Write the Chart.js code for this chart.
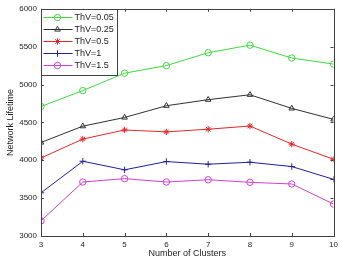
<!DOCTYPE html>
<html>
<head>
<meta charset="utf-8">
<script src="https://cdn.jsdelivr.net/npm/chart.js@4/dist/chart.umd.min.js"></script>
<style>
    html, body { margin: 0; padding: 0; background: #fff; }
    #wrap { width: 342px; height: 256px; position: relative; }
</style>
</head>
<body>
<div id="wrap"><canvas id="chart"></canvas></div>
<script>
let clusters = [3, 4, 5, 6, 7, 8, 9, 10];
let yTicks = [3000, 3500, 4000, 4500, 5000, 5500, 6000];

let thv005 = [4710, 4920, 5150, 5250, 5420, 5520, 5350, 5270];
let thv025 = [4235, 4450, 4565, 4720, 4800, 4865, 4685, 4540];
let thv05 = [4030, 4280, 4400, 4375, 4410, 4452, 4213, 4013];
let thv1 = [3570, 3987, 3874, 3983, 3948, 3974, 3917, 3748];
let thv15 = [3200, 3713, 3757, 3713, 3743, 3709, 3687, 3422];

let seriesLabels = ["ThV=0.05", "ThV=0.25", "ThV=0.5", "ThV=1", "ThV=1.5"];
let seriesData = [thv005, thv025, thv05, thv1, thv15];
let seriesColors = ["#3fd83f", "#303030", "#e02828", "#20209a", "#d040d0"];
let seriesMarkers = ["circle", "triangle", "star", "cross", "circle"];

const FONT = "'Liberation Sans', Arial, sans-serif";

function makeDatasets() {
    return seriesLabels.map((label, i) => ({
        label: label,
        data: clusters.map((c, j) => ({ x: c, y: seriesData[i][j] })),
        borderColor: seriesColors[i],
        backgroundColor: "rgba(0,0,0,0)",
        borderWidth: 1,
        pointStyle: seriesMarkers[i],
        pointRadius: 3.2,
        pointBorderColor: seriesColors[i],
        pointBackgroundColor: "rgba(0,0,0,0)",
        pointBorderWidth: 1,
        tension: 0,
        fill: false
    }));
}

// box, inner tick marks and legend drawn MATLAB-style
let matlabFrame = {
    id: "matlabFrame",
    afterDatasetsDraw(chart) {
        let ctx = chart.ctx;
        let a = chart.chartArea;
        let xs = chart.scales.x;
        let ys = chart.scales.y;

        ctx.save();
        ctx.strokeStyle = "#404040";
        ctx.lineWidth = 1;
        ctx.strokeRect(Math.round(a.left) + 0.5, Math.round(a.top) + 0.5,
            Math.round(a.right - a.left), Math.round(a.bottom - a.top));

        ctx.beginPath();
        clusters.forEach(c => {
            let px = Math.round(xs.getPixelForValue(c)) + 0.5;
            ctx.moveTo(px, a.bottom); ctx.lineTo(px, a.bottom - 3);
            ctx.moveTo(px, a.top); ctx.lineTo(px, a.top + 3);
        });
        yTicks.forEach(v => {
            let py = Math.round(ys.getPixelForValue(v)) + 0.5;
            ctx.moveTo(a.left, py); ctx.lineTo(a.left + 3, py);
            ctx.moveTo(a.right, py); ctx.lineTo(a.right - 3, py);
        });
        ctx.stroke();

        // legend
        let lx = Math.round(a.left) + 0.5;
        let ly = Math.round(a.top) + 0.5;
        let lw = 76;
        let lh = 66;
        ctx.fillStyle = "#fff";
        ctx.fillRect(lx, ly, lw, lh);
        ctx.strokeStyle = "#404040";
        ctx.strokeRect(lx, ly, lw, lh);

        ctx.font = "9px " + FONT;
        ctx.textBaseline = "middle";
        ctx.textAlign = "left";
        seriesLabels.forEach((label, i) => {
            let y = ly + 8 + i * 12;
            ctx.strokeStyle = seriesColors[i];
            ctx.beginPath();
            ctx.moveTo(lx + 2, y);
            ctx.lineTo(lx + 31, y);
            ctx.stroke();
            ctx.fillStyle = "rgba(0,0,0,0)";
            Chart.helpers.drawPoint(ctx, {
                pointStyle: seriesMarkers[i],
                radius: 3.2,
                borderWidth: 1,
                rotation: 0
            }, lx + 16, y);
            ctx.fillStyle = "#222";
            ctx.fillText(label, lx + 33, y + 0.5);
        });
        ctx.restore();
    }
};

let chart = new Chart(document.getElementById("chart"), {
    type: "line",
    data: { datasets: makeDatasets() },
    options: {
        responsive: true,
        maintainAspectRatio: false,
        animation: false,
        layout: { padding: { left: 0, right: 8, top: 6, bottom: -6 } },
        plugins: {
            legend: { display: false },
            tooltip: { enabled: false }
        },
        scales: {
            x: {
                type: "linear",
                min: 3,
                max: 10,
                afterBuildTicks: s => { s.ticks = clusters.map(v => ({ value: v })); },
                afterFit: s => { s.height = 26; },
                grid: { display: false, drawTicks: false },
                border: { display: false },
                ticks: {
                    padding: 4,
                    color: "#222",
                    font: { family: FONT, size: 8 },
                    callback: v => String(v)
                },
                title: {
                    display: true,
                    text: "Number of Clusters",
                    color: "#222",
                    padding: { top: 0, bottom: 3 },
                    font: { family: FONT, size: 9 }
                }
            },
            y: {
                min: 3000,
                max: 6000,
                afterBuildTicks: s => { s.ticks = yTicks.map(v => ({ value: v })); },
                afterFit: s => { s.width = 41; },
                grid: { display: false, drawTicks: false },
                border: { display: false },
                ticks: {
                    padding: 4,
                    color: "#222",
                    font: { family: FONT, size: 8 },
                    callback: v => String(v)
                },
                title: {
                    display: true,
                    text: "Network Lifetime",
                    color: "#222",
                    padding: { top: 5, bottom: 0 },
                    font: { family: FONT, size: 9 }
                }
            }
        }
    },
    plugins: [matlabFrame]
});
</script>
</body>
</html>
